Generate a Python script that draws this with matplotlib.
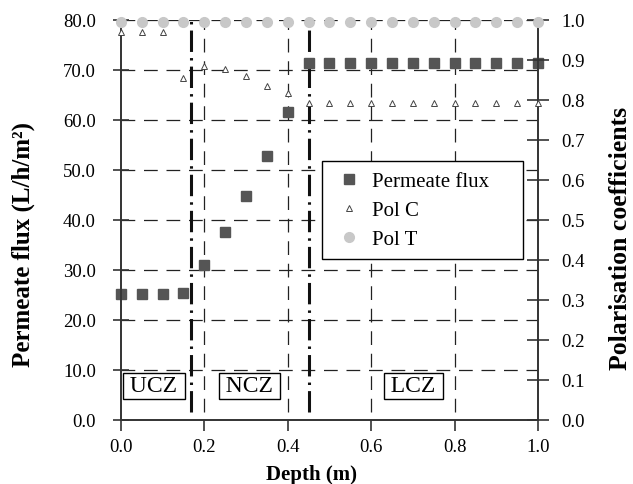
import matplotlib
matplotlib.use('Agg')
from matplotlib import pyplot as plt
import numpy as np

plt.rcParams['font.family'] = ['Liberation Serif', 'DejaVu Serif']

# depth positions (m)
depth = [0.0, 0.05, 0.1, 0.15, 0.2, 0.25, 0.3, 0.35, 0.4, 0.45, 0.5,
         0.55, 0.6, 0.65, 0.7, 0.75, 0.8, 0.85, 0.9, 0.95, 1.0]
# permeate flux (L/h/m2)
flux = [25.2, 25.2, 25.2, 25.3, 31.0, 37.6, 44.7, 52.7, 61.5, 71.4, 71.4,
        71.4, 71.4, 71.4, 71.4, 71.4, 71.4, 71.4, 71.4, 71.4, 71.4]
# polarisation coefficients
pol_c = [0.97, 0.97, 0.97, 0.855, 0.885, 0.876, 0.859, 0.834, 0.817, 0.793, 0.793,
         0.793, 0.793, 0.793, 0.793, 0.793, 0.793, 0.793, 0.793, 0.793, 0.793]
pol_t = [0.994] * 21
zone_bounds = [0.167, 0.45]
zones = ['UCZ', 'NCZ', 'LCZ']
zone_x = [0.079, 0.308, 0.701]

fig = plt.figure(figsize=(6.33, 4.85), dpi=100)
ax = fig.add_axes([0.191, 0.132, 0.659, 0.825])
ax2 = ax.twinx()

grid_kw = dict(color='#222222', lw=0.9, dashes=(11, 7))
for yv in range(10, 81, 10):
    ax.axhline(yv, zorder=1, **grid_kw)
for xv in [0.2, 0.4, 0.6, 0.8]:
    ax.plot([xv, xv], [1.5, 79], zorder=1, **grid_kw)
for xb in zone_bounds:
    ax.plot([xb, xb], [1.5, 80], color='#111111', lw=2.2,
            dashes=(7, 2, 0.8, 2), zorder=2)

h1, = ax.plot(depth, flux, 's', color='#555555', ms=6.5, mec='#555555',
              zorder=5, label='Permeate flux', clip_on=False)
h2, = ax2.plot(depth, pol_c, '^', mfc='white', mec='#444444', mew=0.7, ms=4,
               zorder=5, label='Pol C', clip_on=False)
h3, = ax2.plot(depth, pol_t, 'o', color='#c8c8c8', ms=7, zorder=5,
               label='Pol T', clip_on=False)

for name, xz in zip(zones, zone_x):
    ax.text(xz, 6.8, '\u2009' + name + '\u2009', ha='center', va='center',
            fontsize=17,
            bbox=dict(boxstyle='square,pad=0.1', fc='white', ec='black', lw=1),
            zorder=6)

ax.set_xlim(0, 1.0)
ax.set_ylim(0, 80)
ax2.set_ylim(0, 1.0)
ax.set_xticks(np.arange(0, 1.01, 0.2))
ax.set_xticklabels(['%.1f' % v for v in np.arange(0, 1.01, 0.2)])
ax.set_yticks(range(0, 81, 10))
ax.set_yticklabels(['%.1f' % v for v in range(0, 81, 10)])
ax2.set_yticks(np.arange(0, 1.01, 0.1))
ax2.set_yticklabels(['%.1f' % v for v in np.arange(0, 1.01, 0.1)])

for a in (ax, ax2):
    a.spines['top'].set_visible(False)
    for s in a.spines.values():
        s.set_linewidth(1.2)
        s.set_color('#333333')
ax.tick_params(axis='x', direction='out', length=8, width=1.2, pad=5,
               labelsize=13.5, color='#333333')
ax.tick_params(axis='y', direction='inout', length=12, width=1.2, pad=12,
               labelsize=13.5, color='#333333')
ax2.tick_params(axis='y', direction='inout', length=16, width=1.2, pad=9,
                labelsize=13.5, color='#333333')

ax.set_xlabel('Depth (m)', fontsize=15, fontweight='bold')
ax.xaxis.set_label_coords(0.458, -0.11)
ax.set_ylabel('Permeate flux (L/h/m²)', fontsize=18, fontweight='bold')
ax.yaxis.set_label_coords(-0.206, 0.44)
ax2.set_ylabel('Polarisation coefficients', fontsize=18.5, fontweight='bold')
ax2.yaxis.set_label_coords(1.170, 0.455)

leg = ax2.legend(handles=[h1, h2, h3], loc='upper left',
                 bbox_to_anchor=(0.482, 0.4, 0.482, 0.2475), mode='expand',
                 fontsize=15, frameon=True,
                 fancybox=False, edgecolor='black', framealpha=1,
                 handletextpad=0.3, handlelength=1.6, borderpad=0.5,
                 labelspacing=0.45, borderaxespad=0)
leg.get_frame().set_linewidth(1)
leg.set_zorder(10)

fig.savefig('out.png', dpi=100)
